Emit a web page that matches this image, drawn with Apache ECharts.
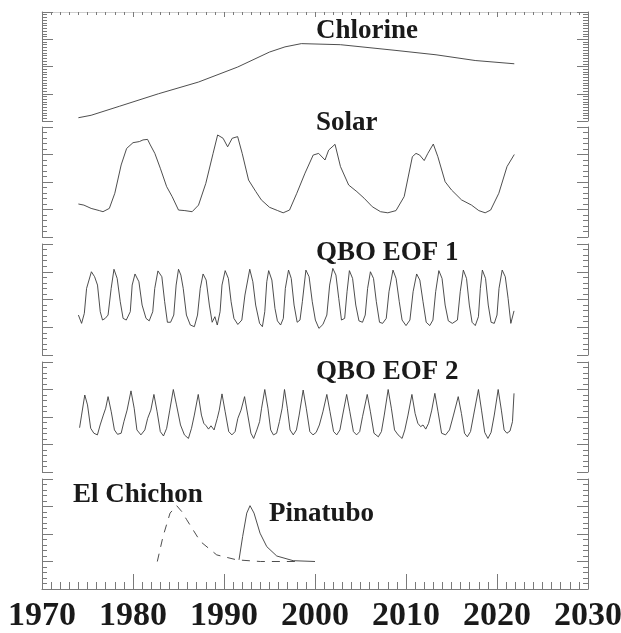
<!DOCTYPE html>
<html><head><meta charset="utf-8">
<script src="https://cdn.jsdelivr.net/npm/echarts@6/dist/echarts.min.js"></script>
<style>html,body{margin:0;padding:0;background:#fff}#c{width:621px;height:633px}</style>
</head><body><div id="c"></div>
<script>
const panelNames = ['Chlorine', 'Solar', 'QBO EOF 1', 'QBO EOF 2'];
const volcanoNames = ['El Chichon', 'Pinatubo'];
const yearTicks = [1970, 1980, 1990, 2000, 2010, 2020, 2030];

const chlorine = [[1974.0,0.12],[1975.4,0.21],[1978.5,0.54],[1982.8,1.0],[1987.2,1.43],[1991.5,1.98],[1995.0,2.53],[1996.7,2.72],[1998.5,2.84],[2002.8,2.80],[2008.9,2.59],[2013.3,2.43],[2017.6,2.22],[2021.9,2.10]];

const solar = [[1974.0,1.2],[1974.6,1.16],[1975.4,1.04],[1976.3,0.96],[1976.7,0.92],[1977.4,1.04],[1978.0,1.59],[1978.7,2.62],[1979.3,3.22],[1980.0,3.43],[1980.7,3.47],[1981.1,3.53],[1981.6,3.55],[1981.9,3.35],[1982.4,3.04],[1983.0,2.5],[1983.7,1.83],[1984.3,1.47],[1985.0,0.98],[1985.7,0.96],[1986.5,0.92],[1987.2,1.16],[1988.0,1.95],[1988.8,3.04],[1989.3,3.71],[1989.9,3.59],[1990.4,3.28],[1990.9,3.59],[1991.5,3.65],[1992.0,3.04],[1992.7,2.07],[1993.5,1.65],[1994.1,1.35],[1995.0,1.08],[1995.9,0.96],[1996.5,0.88],[1997.2,0.98],[1998.0,1.59],[1998.9,2.32],[1999.8,2.98],[2000.4,3.04],[2001.1,2.8],[2001.5,3.16],[2002.2,3.37],[2002.8,2.56],[2003.7,1.89],[2004.6,1.65],[2005.4,1.41],[2006.3,1.1],[2007.2,0.92],[2008.0,0.88],[2008.9,0.96],[2009.8,1.47],[2010.7,2.92],[2011.1,3.04],[2011.5,2.98],[2012.0,2.78],[2012.4,3.04],[2013.0,3.38],[2013.5,2.92],[2014.3,2.01],[2015.0,1.71],[2016.1,1.35],[2017.2,1.16],[2018.0,0.96],[2018.7,0.88],[2019.3,0.98],[2020.2,1.59],[2021.1,2.56],[2021.9,3.0]];

const qbo1 = [[1974.0,1.44],[1974.35,1.14],[1974.65,1.5],[1974.9,2.4],[1975.43,3.0],[1975.78,2.82],[1976.1,2.52],[1976.4,1.56],[1976.65,1.26],[1976.95,1.32],[1977.26,1.44],[1977.6,2.4],[1977.91,3.09],[1978.26,2.76],[1978.6,1.92],[1978.91,1.32],[1979.26,1.26],[1979.7,1.56],[1979.91,2.52],[1980.22,2.92],[1980.65,2.64],[1981.0,1.8],[1981.43,1.32],[1981.78,1.23],[1982.17,1.56],[1982.39,2.4],[1982.74,3.03],[1983.17,2.82],[1983.48,1.92],[1983.78,1.18],[1984.13,1.18],[1984.48,1.44],[1984.74,2.52],[1985.0,3.09],[1985.26,2.88],[1985.52,2.4],[1985.87,1.44],[1986.3,1.08],[1986.74,1.02],[1987.09,1.44],[1987.39,2.4],[1987.7,2.92],[1988.04,2.7],[1988.39,1.8],[1988.7,1.18],[1989.0,1.38],[1989.26,1.08],[1989.57,1.56],[1989.78,2.52],[1990.13,3.04],[1990.48,2.76],[1990.78,1.92],[1991.09,1.32],[1991.52,1.1],[1991.96,1.26],[1992.3,2.16],[1992.83,3.09],[1993.17,2.64],[1993.48,1.8],[1993.91,1.14],[1994.22,1.02],[1994.48,1.56],[1994.7,2.64],[1994.91,3.04],[1995.26,2.7],[1995.6,1.68],[1995.87,1.23],[1996.22,1.08],[1996.52,1.32],[1996.74,2.4],[1997.09,3.06],[1997.39,2.76],[1997.7,1.8],[1998.04,1.18],[1998.35,1.26],[1998.61,1.92],[1999.0,3.06],[1999.35,2.82],[1999.7,1.92],[2000.04,1.26],[2000.43,0.96],[2000.87,1.1],[2001.3,1.44],[2001.61,2.52],[2001.96,3.12],[2002.3,2.88],[2002.61,2.04],[2002.91,1.26],[2003.26,1.32],[2003.52,2.28],[2003.78,3.04],[2004.13,2.76],[2004.48,1.8],[2004.83,1.23],[2005.22,1.18],[2005.52,1.44],[2005.78,2.4],[2006.09,3.0],[2006.43,2.76],[2006.74,1.92],[2007.09,1.18],[2007.43,1.14],[2007.83,1.32],[2008.13,2.28],[2008.57,3.06],[2008.91,2.76],[2009.26,1.92],[2009.57,1.26],[2010.0,1.06],[2010.43,1.26],[2010.78,2.28],[2011.17,2.92],[2011.52,2.7],[2011.87,1.92],[2012.22,1.18],[2012.61,1.06],[2012.96,1.26],[2013.26,2.28],[2013.61,3.04],[2013.96,2.76],[2014.3,1.8],[2014.65,1.23],[2015.09,1.14],[2015.65,1.26],[2015.96,2.28],[2016.3,3.06],[2016.65,2.76],[2016.96,1.8],[2017.26,1.18],[2017.61,1.06],[2017.96,1.38],[2018.17,2.4],[2018.39,3.06],[2018.74,2.76],[2019.04,1.8],[2019.35,1.18],[2019.7,1.14],[2020.0,1.44],[2020.22,2.4],[2020.57,3.06],[2020.91,2.82],[2021.22,2.04],[2021.52,1.14],[2021.7,1.1],[2021.87,1.59]];

const qbo2 = [[1974.13,1.61],[1974.35,2.07],[1974.7,2.8],[1975.0,2.44],[1975.35,1.59],[1975.7,1.41],[1976.09,1.35],[1976.39,1.71],[1976.74,2.07],[1977.0,2.32],[1977.26,2.74],[1977.61,2.19],[1977.96,1.53],[1978.3,1.37],[1978.7,1.41],[1979.0,1.83],[1979.35,2.25],[1979.78,2.95],[1980.13,2.32],[1980.43,1.53],[1980.87,1.35],[1981.3,1.53],[1981.61,1.95],[1981.96,2.25],[1982.3,2.82],[1982.65,2.19],[1983.0,1.47],[1983.35,1.31],[1983.7,1.59],[1984.04,2.25],[1984.43,3.0],[1984.78,2.44],[1985.22,1.71],[1985.65,1.35],[1986.09,1.22],[1986.43,1.59],[1986.74,2.07],[1987.17,2.82],[1987.52,2.07],[1987.78,1.77],[1988.04,1.68],[1988.3,1.56],[1988.57,1.68],[1988.91,1.53],[1989.26,1.95],[1989.48,2.25],[1989.78,2.84],[1990.13,2.19],[1990.52,1.47],[1990.87,1.35],[1991.22,1.47],[1991.52,1.95],[1991.87,2.25],[1992.26,2.74],[1992.61,2.07],[1992.96,1.41],[1993.26,1.22],[1993.61,1.53],[1993.91,1.83],[1994.13,2.32],[1994.48,3.0],[1994.83,2.32],[1995.13,1.53],[1995.43,1.35],[1995.78,1.41],[1996.09,1.83],[1996.39,2.32],[1996.65,3.0],[1996.96,2.32],[1997.26,1.53],[1997.61,1.35],[1997.96,1.53],[1998.26,2.07],[1998.7,2.98],[1999.04,2.32],[1999.43,1.47],[1999.78,1.35],[2000.13,1.44],[2000.48,1.71],[2000.87,2.19],[2001.3,2.82],[2001.65,2.19],[2002.04,1.47],[2002.39,1.35],[2002.74,1.53],[2003.04,2.07],[2003.48,2.82],[2003.83,2.19],[2004.22,1.47],[2004.57,1.35],[2004.91,1.47],[2005.22,2.01],[2005.74,2.82],[2006.09,2.19],[2006.48,1.41],[2006.96,1.28],[2007.3,1.47],[2007.61,2.07],[2008.04,3.0],[2008.39,2.32],[2008.74,1.53],[2009.13,1.35],[2009.57,1.22],[2009.87,1.53],[2010.22,2.07],[2010.65,2.82],[2011.0,2.13],[2011.3,1.77],[2011.61,1.65],[2011.87,1.71],[2012.17,1.56],[2012.48,1.77],[2012.83,2.25],[2013.17,2.86],[2013.52,2.19],[2013.91,1.41],[2014.35,1.35],[2014.78,1.53],[2015.22,2.07],[2015.74,2.74],[2016.09,2.13],[2016.43,1.41],[2016.74,1.28],[2017.09,1.47],[2017.43,2.07],[2017.96,3.0],[2018.3,2.25],[2018.65,1.44],[2019.0,1.22],[2019.35,1.44],[2019.7,2.07],[2020.13,3.0],[2020.48,2.25],[2020.78,1.53],[2021.09,1.41],[2021.43,1.49],[2021.7,1.83],[2021.87,2.86]];

const elChichon = [[1982.67,1.0],[1983.3,1.91],[1984.07,2.76],[1984.8,3.03],[1985.35,2.82],[1985.9,2.52],[1987.4,1.73],[1989.2,1.24],[1991.4,1.06],[1994.0,1.0],[1998.3,1.0]];
const pinatubo = [[1991.65,1.06],[1992.05,1.91],[1992.5,2.76],[1992.86,3.03],[1993.3,2.76],[1993.96,2.03],[1994.7,1.54],[1995.8,1.2],[1997.6,1.03],[2000.0,1.0]];

const FONT = '"Liberation Serif", "Times New Roman", serif';
const AXC = '#7a7a7a';
const LINEC = '#3a3a3a';
const tops = [12, 127, 244, 362, 479];
const heights = [109, 110, 111, 110, 110];

const grid = tops.map((t, i) => ({ left: 42, width: 546, top: t, height: heights[i], outerBoundsMode: 'none', containLabel: false }));
const xAxis = tops.map((t, i) => ({
  gridIndex: i, type: 'value', min: yearTicks[0], max: yearTicks[yearTicks.length - 1], interval: 10,
  position: i === 0 ? 'top' : 'bottom',
  show: i === 0 || i === 4,
  axisLine: { show: true, onZero: false, lineStyle: { color: i === 0 ? '#d0d0d0' : AXC, width: 1 } },
  axisTick: { show: true, inside: true, length: i === 0 ? 5 : 15, lineStyle: { color: AXC } },
  minorTick: { show: true, splitNumber: 10, length: i === 0 ? 3 : 7, lineStyle: { color: AXC } },
  axisLabel: { show: i === 4, showMinLabel: true, showMaxLabel: true, hideOverlap: false, formatter: v => String(v),
    fontFamily: FONT, fontWeight: 'bold', fontSize: 34, color: '#1a1a1a', margin: 10 },
  splitLine: { show: false }, minorSplitLine: { show: false }
}));
const yAxis = [];
tops.forEach((t, i) => {
  ['left', 'right'].forEach(pos => {
    yAxis.push({
      gridIndex: i, type: 'value', min: 0, max: 4, interval: 1, position: pos,
      axisLine: { show: true, onZero: false, lineStyle: { color: AXC, width: 1 } },
      axisTick: { show: true, inside: true, length: 11, lineStyle: { color: AXC } },
      minorTick: { show: true, splitNumber: i === 0 ? 10 : 5, length: 5, lineStyle: { color: AXC } },
      axisLabel: { show: false }, splitLine: { show: false }, minorSplitLine: { show: false }
    });
  });
});

function lineSeries(name, data, gi, dashed) {
  return {
    name, type: 'line', data, xAxisIndex: gi, yAxisIndex: gi * 2,
    showSymbol: false, symbol: 'none', smooth: false, animation: false,
    lineStyle: { color: LINEC, width: 0.9, type: dashed ? [8, 7] : 'solid' }
  };
}

const series = [
  lineSeries(panelNames[0], chlorine, 0),
  lineSeries(panelNames[1], solar, 1),
  lineSeries(panelNames[2], qbo1, 2),
  lineSeries(panelNames[3], qbo2, 3),
  lineSeries(volcanoNames[0], elChichon, 4, true),
  lineSeries(volcanoNames[1], pinatubo, 4)
];

function label(text, x, y) {
  return { type: 'text', x, y, silent: true,
    style: { text, fill: '#1a1a1a', font: 'bold 27px ' + FONT, textAlign: 'left', textVerticalAlign: 'middle', align: 'left', verticalAlign: 'middle' } };
}
const graphic = [
  label(panelNames[0], 316, 31),
  label(panelNames[1], 316, 123),
  label(panelNames[2], 316, 253),
  label(panelNames[3], 316, 372),
  label(volcanoNames[0], 73, 495),
  label(volcanoNames[1], 269, 514)
];

const chart = echarts.init(document.getElementById('c'), null, { renderer: 'canvas' });
chart.setOption({ animation: false, backgroundColor: '#ffffff', grid, xAxis, yAxis, series, graphic });
</script>
</body></html>
